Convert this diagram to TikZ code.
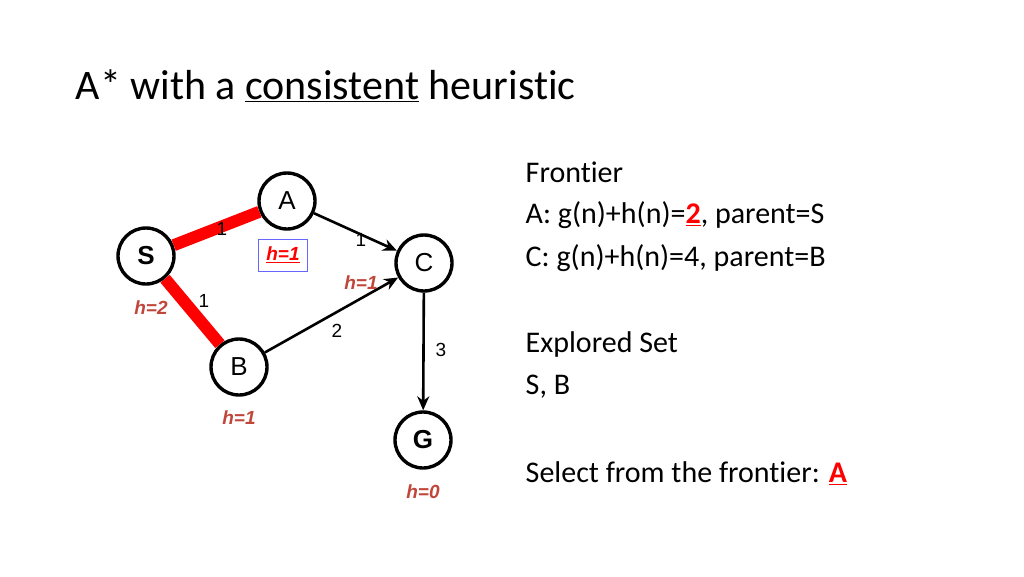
\documentclass[tikz,border=0pt]{standalone}
\usepackage{fontspec}
\setmainfont{Carlito}[Ligatures=CommonOff]
\newfontfamily\arialfont{Liberation Sans}
\usetikzlibrary{arrows.meta}
\definecolor{hred}{HTML}{C0463A}
\begin{document}
\begin{tikzpicture}[x=1pt, y=-1pt, thick,
  main/.style = {draw, circle, line width=3.4pt, minimum size=56pt, inner sep=0pt, font=\arialfont\fontsize{26}{28}\selectfont},
  hlab/.style = {text=hred, font=\arialfont\bfseries\itshape\fontsize{19}{21}\selectfont},
  wlab/.style = {font=\arialfont\fontsize{19}{21}\selectfont},
  path/.style = {red, line width=12pt},
  edge/.style = {-{Stealth[length=14pt, width=12pt]}, line width=2.6pt},
  txt/.style = {anchor=west, font=\fontsize{30}{34}\selectfont}]
\useasboundingbox (0,0) rectangle (1024,576);
\node[anchor=west, font=\fontsize{42}{46}\selectfont] (title) at (72,86) {A* with a \underline{consistent} heuristic};
\node[main] (S) at (146,256) {\bfseries S};
\node[main] (A) at (287,201) {A};
\node[main] (C) at (424,263) {C};
\node[main] (B) at (239,367) {B};
\node[main] (G) at (423,440) {\bfseries G};
\draw[path] (S) -- (A);
\draw[path] (S) -- (B);
\draw[edge] (A) -- (C);
\draw[edge] (B) -- (C);
\draw[edge] (C) -- (G);
\node[wlab] (wsa) at (222,229) {1};
\node[wlab] (wsb) at (204,301) {1};
\node[wlab] (wac) at (361,240) {1};
\node[wlab] (wbc) at (337,331) {2};
\node[wlab] (wcg) at (441,350) {3};
\node[hlab] (hS) at (151,308) {h=2};
\node[hlab] (hB) at (239,418) {h=1};
\node[hlab] (hG) at (423,492) {h=0};
\node[hlab] (hC) at (361,283) {h=1};
\node[draw=blue!60, thin, text=red, font=\arialfont\bfseries\itshape\fontsize{19}{21}\selectfont, minimum width=49pt, minimum height=32pt] (hA) at (283,255) {\underline{h=1}};
\node[txt] (fr) at (522,172) {Frontier};
\node[txt] (la) at (522,215) {A: g(n)+h(n)=\textcolor{red}{\bfseries\underline{2}}, parent=S};
\node[txt] (lc) at (522,258) {C: g(n)+h(n)=4, parent=B};
\node[txt] (ex) at (522,344) {Explored Set};
\node[txt] (es) at (522,387) {S, B};
\node[txt] (sel) at (522,473) {Select from the frontier: \textcolor{red}{\bfseries\underline{A}}};
\end{tikzpicture}
\end{document}
